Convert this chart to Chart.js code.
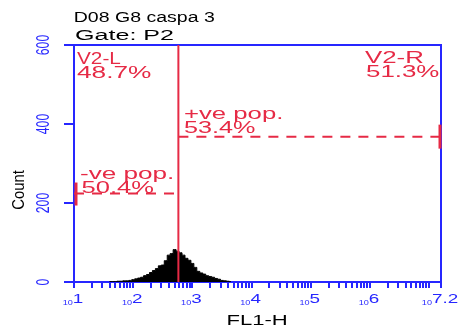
<!DOCTYPE html>
<html><head><meta charset="utf-8">
<script src="https://cdn.jsdelivr.net/npm/chart.js@4/dist/chart.umd.min.js"></script>
<style>html,body{margin:0;padding:0;background:#fff;overflow:hidden}#wrap{width:461px;height:329px;position:relative}</style>
</head><body><div id="wrap"><canvas id="c" width="461" height="329"></canvas></div>
<script>
// ---------- data ----------
const titleLines = ['D08 G8 caspa 3', 'Gate: P2'];
const xAxisTitle = 'FL1-H';
const yAxisTitle = 'Count';
// histogram bin centres (log10 of FL1-H) and counts
const binLog10 = [1.60,1.65,1.70,1.75,1.80,1.85,1.90,1.95,2.00,2.05,
                  2.10,2.15,2.20,2.25,2.30,2.35,2.40,2.45,2.50,2.55,
                  2.60,2.65,2.70,2.75,2.80,2.85,2.90,2.95,3.00,3.05,
                  3.10,3.15,3.20,3.25,3.30,3.35,3.40,3.45,3.50,3.55,
                  3.60,3.65];
const binCounts = [1,1,1,2,2,3,3,4,6,8,
                   10,12,16,19,24,29,34,41,43,54,
                   68,72,82,78,74,68,60,55,47,37,
                   27,23,20,16,14,12,9,7,4,3,
                   2,1];
const yTicks = [0, 200, 400, 600];
const xDecadeExps = [1, 2, 3, 4, 5, 6, 7];
const xLabelExps = [1, 2, 3, 4, 5, 6, 7.2];
const xLabelTexts = ['1', '2', '3', '4', '5', '6', '7.2'];
const xMinExp = 1, xMaxExp = 7.2;
const yMax = 600;
const dividerValue = 580;               // V2 marker position (FL1-H)
const regionNames = ['V2-L', 'V2-R'];
const regionPercents = ['48.7%', '51.3%'];
const gateNames = ['-ve pop.', '+ve pop.'];
const gatePercents = ['50.4%', '53.4%'];
const gateLevels = [224, 368];          // height at which each gate range is drawn

// ---------- styles ----------
const BLUE = '#2626ff';
const RED = '#e62a45';
const FONT = '"Liberation Sans", Arial, sans-serif';

const xMin = Math.pow(10, xMinExp), xMax = Math.pow(10, xMaxExp);
const histData = binLog10.map((e, i) => ({x: Math.pow(10, e), y: binCounts[i]}));
const xTickValues = [];
xDecadeExps.forEach(n => {
  for (let k = 1; k <= 9; k++) { const v = k * Math.pow(10, n); if (v <= xMax) xTickValues.push(v); }
});
xTickValues.push(xMax);

function drawStr(ctx, txt, x, y, o) {
  ctx.save();
  ctx.font = o.font; ctx.fillStyle = o.color;
  ctx.textBaseline = 'alphabetic'; ctx.textAlign = o.align || 'left';
  const m = ctx.measureText(txt);
  let sx = o.sx || 1, dx = 0;
  if (o.width) {
    const w = m.actualBoundingBoxRight + m.actualBoundingBoxLeft;
    sx = o.width / w;
    if (!o.align || o.align === 'left') dx = m.actualBoundingBoxLeft;
  }
  ctx.translate(x, y);
  if (o.rot) ctx.rotate(o.rot);
  ctx.scale(sx, 1);
  ctx.fillText(txt, dx, 0);
  ctx.restore();
}

const decor = {
  id: 'decor',
  afterDatasetsDraw(chart) {
    const ctx = chart.ctx, xs = chart.scales.x, ys = chart.scales.y;
    // gate range end caps
    ctx.save();
    ctx.strokeStyle = RED; ctx.lineWidth = 3;
    const lx = xs.getPixelForValue(xMin) + 2, ly = ys.getPixelForValue(gateLevels[0]);
    ctx.beginPath(); ctx.moveTo(lx, ly - 11); ctx.lineTo(lx, ly + 12); ctx.stroke();
    const rx = xs.getPixelForValue(xMax) - 1, ry = ys.getPixelForValue(gateLevels[1]);
    ctx.beginPath(); ctx.moveTo(rx, ry - 12); ctx.lineTo(rx, ry + 12); ctx.stroke();
    ctx.restore();
  },
  afterDraw(chart) {
    const ctx = chart.ctx, xs = chart.scales.x, ys = chart.scales.y;
    // titles
    drawStr(ctx, titleLines[0], 75, 22, {font: '15.5px ' + FONT, color: '#000', width: 139});
    drawStr(ctx, titleLines[1], 75, 40, {font: '15.5px ' + FONT, color: '#000', width: 98});
    // axis titles
    drawStr(ctx, yAxisTitle, 24, 190, {font: '16px ' + FONT, color: '#000', width: 40, align: 'center', rot: -Math.PI / 2});
    drawStr(ctx, xAxisTitle, 228, 325, {font: '14.5px ' + FONT, color: '#000', width: 59});
    // y tick labels
    yTicks.forEach(v => {
      drawStr(ctx, String(v), 49, ys.getPixelForValue(v), {font: '18px ' + FONT, color: BLUE, sx: 0.68, align: 'center', rot: -Math.PI / 2});
    });
    // x tick labels: 10^n
    xLabelExps.forEach((e, i) => {
      const px = xs.getPixelForValue(Math.pow(10, e));
      ctx.save();
      ctx.font = '7px ' + FONT; const w1 = ctx.measureText('10').width * 1.3;
      ctx.font = '13px ' + FONT; const w2 = ctx.measureText(xLabelTexts[i]).width * 1.45;
      ctx.restore();
      const start = px - (w1 + w2) / 2 - 1;
      drawStr(ctx, '10', start, 305, {font: '7px ' + FONT, color: BLUE, sx: 1.3});
      drawStr(ctx, xLabelTexts[i], start + w1, 303, {font: '13px ' + FONT, color: BLUE, sx: 1.45});
    });
    // region & gate labels
    const rf = '16px ' + FONT;
    drawStr(ctx, regionNames[0], 77, 64, {font: rf, color: RED, width: 44});
    drawStr(ctx, regionPercents[0], 77, 78, {font: rf, color: RED, width: 74});
    drawStr(ctx, regionNames[1], 365, 63, {font: rf, color: RED, width: 58});
    drawStr(ctx, regionPercents[1], 366, 77, {font: rf, color: RED, width: 73});
    drawStr(ctx, gateNames[1], 184, 118.5, {font: rf, color: RED, width: 97});
    drawStr(ctx, gatePercents[1], 184, 133, {font: rf, color: RED, width: 71});
    drawStr(ctx, gateNames[0], 80, 178.5, {font: rf, color: RED, width: 92});
    drawStr(ctx, gatePercents[0], 81.5, 192.5, {font: rf, color: RED, width: 72});
  }
};

new Chart(document.getElementById('c'), {
  type: 'line',
  data: {
    datasets: [
      { // V2 divider
        data: [{x: dividerValue, y: 0}, {x: dividerValue, y: yMax}],
        borderColor: RED, borderWidth: 2, pointRadius: 0, fill: false
      },
      { // -ve pop gate range
        data: [{x: xMin, y: gateLevels[0]}, {x: dividerValue, y: gateLevels[0]}],
        borderColor: RED, borderWidth: 2, borderDash: [10, 8], pointRadius: 0, fill: false
      },
      { // +ve pop gate range
        data: [{x: dividerValue, y: gateLevels[1]}, {x: xMax, y: gateLevels[1]}],
        borderColor: RED, borderWidth: 2, borderDash: [10, 8], pointRadius: 0, fill: false
      },
      { // histogram
        data: histData, stepped: 'middle', fill: 'origin',
        backgroundColor: '#000', borderColor: '#000', borderWidth: 1, pointRadius: 0
      }
    ]
  },
  options: {
    responsive: false, animation: false, events: [],
    layout: {padding: {left: 64, top: 45, right: 20, bottom: 41}},
    plugins: {legend: {display: false}, tooltip: {enabled: false}},
    scales: {
      x: {
        type: 'logarithmic', position: 'bottom', min: xMin, max: xMax,
        ticks: {display: false},
        afterBuildTicks: s => { s.ticks = xTickValues.map(v => ({value: v})); },
        grid: {drawOnChartArea: false, drawTicks: true, tickLength: 6, color: BLUE, lineWidth: 2},
        border: {display: true, color: BLUE, width: 2}
      },
      y: {
        type: 'linear', position: 'left', min: 0, max: yMax,
        ticks: {display: false},
        afterBuildTicks: s => { s.ticks = yTicks.map(v => ({value: v})); },
        grid: {drawOnChartArea: false, drawTicks: true, tickLength: 10, color: BLUE, lineWidth: 2},
        border: {display: true, color: BLUE, width: 2}
      },
      x2: {
        axis: 'x', type: 'linear', position: 'top', min: 0, max: 1,
        ticks: {display: false}, grid: {display: false, drawTicks: false},
        border: {display: true, color: BLUE, width: 2}
      },
      y2: {
        axis: 'y', type: 'linear', position: 'right', min: 0, max: 1,
        ticks: {display: false}, grid: {display: false, drawTicks: false},
        border: {display: true, color: BLUE, width: 2}
      }
    }
  },
  plugins: [decor]
});
</script></body></html>
